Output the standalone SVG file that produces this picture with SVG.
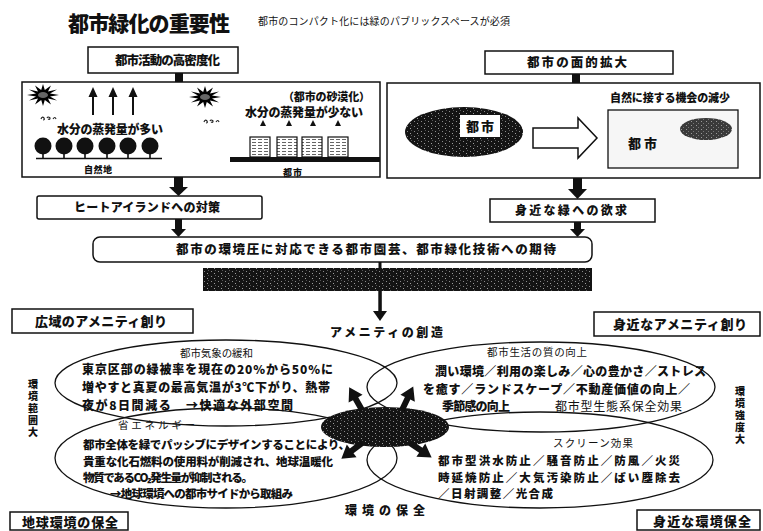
<svg xmlns="http://www.w3.org/2000/svg" width="763" height="531" viewBox="0 0 763 531">
<defs>
<style>
text { font-family: "Noto Sans CJK JP", "Noto Sans", sans-serif; fill: #111; }
.b { font-weight: 900; }
.r { font-weight: 400; }
.box { fill: #fff; stroke: #111; stroke-width: 1.5; }
.ell { fill: none; stroke: #111; stroke-width: 1.3; }
.ink { fill: #111; }
.thin { stroke: #111; stroke-width: 1.5; fill: none; }
.vert { writing-mode: vertical-rl; font-weight: 900; font-size: 10px; letter-spacing: 2px; }
</style>
<pattern id="grain" width="7" height="5" patternUnits="userSpaceOnUse">
  <rect width="7" height="5" fill="#141414"/>
  <rect x="1" y="1" width="1" height="1" fill="#8a8a8a"/>
  <rect x="4" y="3" width="1" height="1" fill="#a0a0a0"/>
  <rect x="5" y="0" width="1" height="1" fill="#555"/>
</pattern>
<pattern id="grain2" width="5" height="4" patternUnits="userSpaceOnUse">
  <rect width="5" height="4" fill="#3a3a3a"/>
  <rect x="1" y="1" width="1" height="1" fill="#9a9a9a"/>
  <rect x="3" y="3" width="1" height="1" fill="#777"/>
</pattern>
<pattern id="wall" width="6" height="3" patternUnits="userSpaceOnUse">
  <rect width="6" height="3" fill="#fff"/>
  <rect x="0" y="1" width="4" height="1" fill="#666"/>
</pattern>
<polygon id="burst" points="16,0 7,1.4 14,5.5 5,3.5 8,9.5 1.8,5 0,11 -1.8,5 -8,9.5 -5,3.5 -14,5.5 -7,1.4 -16,0 -7,-1.4 -14,-5.5 -5,-3.5 -8,-9.5 -1.8,-5 0,-11 1.8,-5 8,-9.5 5,-3.5 14,-5.5 7,-1.4"/>
<g id="tree">
  <circle r="8.5" fill="#111"/>
  <rect x="-0.8" y="6" width="1.6" height="6" fill="#111"/>
</g>
<path id="upArrow" d="M-1,0 V-18 H-4.5 L0,-28 L4.5,-18 H1 V0 Z" fill="#111"/>
<path id="fat" d="M0,-3 H13 V-8 L26,0 L13,8 V3 H0 Z" fill="#111"/>
<path id="drops" d="M0,2 q1,-3 3,-1 q1,2 -1,2 M6,1 q1,-2 3,0 q0,2 -2,1 M12,2 q2,-3 3,0" stroke="#222" stroke-width="1.2" fill="none"/>
</defs>

<rect width="763" height="531" fill="#fff"/>

<!-- heading -->
<g id="title">
  <text x="68" y="31" font-size="21" class="b" textLength="162">都市緑化の重要性</text>
  <text x="258" y="25" font-size="10" class="r" textLength="252">都市のコンパクト化には緑のパブリックスペースが必須</text>
</g>

<!-- connectors -->
<g id="connectors" class="ink">
  <rect x="175" y="73" width="8" height="9"/>
  <rect x="572" y="74" width="8" height="9"/>
  <rect x="174" y="177" width="9" height="10"/>
  <polygon points="169,187 188,187 178.5,196"/>
  <rect x="573" y="178" width="9" height="11"/>
  <polygon points="568,189 587,189 577.5,199"/>
  <rect x="175" y="219" width="7" height="10"/>
  <polygon points="171,229 186,229 178.5,237"/>
  <rect x="574" y="222" width="7" height="7"/>
  <polygon points="570,229 585,229 577.5,237"/>
  <rect x="378.5" y="262" width="3" height="6"/>
  <rect x="378.3" y="291" width="3.5" height="21"/>
  <polygon points="373,311 387,311 380,321"/>
</g>

<!-- density of urban activity -->
<g id="node-density">
  <rect class="box" x="88" y="47" width="150" height="26"/>
  <text x="115" y="65" font-size="12.5" class="b" textLength="105">都市活動の高密度化</text>
</g>

<g id="node-left-panel">
  <rect class="box" x="22" y="82" width="358" height="95"/>
  <use href="#burst" x="43" y="95"/>
  <ellipse cx="43" cy="95" rx="5" ry="3" fill="#666"/>
  <use href="#upArrow" x="93" y="115"/>
  <use href="#upArrow" x="113" y="115"/>
  <use href="#upArrow" x="133" y="115"/>
  <use href="#drops" x="41" y="117"/>
  <text x="57" y="134" font-size="12" class="b" textLength="106">水分の蒸発量が多い</text>
  <use href="#tree" x="43" y="146"/>
  <use href="#tree" x="64" y="146"/>
  <use href="#tree" x="85" y="146"/>
  <use href="#tree" x="107" y="146"/>
  <use href="#tree" x="128" y="146"/>
  <use href="#tree" x="150" y="146"/>
  <line x1="36" y1="158.5" x2="162" y2="158.5" class="thin"/>
  <text x="84" y="173" font-size="9" class="b" textLength="28">自然地</text>

  <use href="#burst" x="205" y="97"/>
  <ellipse cx="205" cy="97" rx="5" ry="3" fill="#666"/>
  <use href="#drops" x="204" y="120"/>
  <text x="283" y="101" font-size="11" class="b" textLength="87">（都市の砂漠化）</text>
  <text x="245" y="117" font-size="12" class="b" textLength="118">水分の蒸発量が少ない</text>
  <polygon class="ink" points="260,126 263,120 266,126"/>
  <polygon class="ink" points="286,126 289,120 292,126"/>
  <polygon class="ink" points="310,126 313,120 316,126"/>
  <polygon class="ink" points="335,126 338,120 341,126"/>
  <rect x="250" y="137" width="20" height="20" fill="url(#wall)" stroke="#111" stroke-width="1.2"/>
  <rect x="277" y="137" width="20" height="20" fill="url(#wall)" stroke="#111" stroke-width="1.2"/>
  <rect x="302" y="137" width="20" height="20" fill="url(#wall)" stroke="#111" stroke-width="1.2"/>
  <rect x="328" y="137" width="20" height="20" fill="url(#wall)" stroke="#111" stroke-width="1.2"/>
  <rect class="ink" x="230" y="157" width="150" height="5"/>
  <text x="283" y="176" font-size="9" class="b" textLength="19">都市</text>
</g>

<!-- spatial expansion -->
<g id="node-expansion">
  <rect class="box" x="485" y="51" width="188" height="23"/>
  <text x="527" y="67" font-size="12.5" class="b" textLength="100">都市の面的拡大</text>
</g>

<g id="node-right-panel">
  <rect class="box" x="387" y="83" width="373" height="95"/>
  <ellipse cx="464" cy="132" rx="59" ry="25" fill="url(#grain)"/>
  <rect x="460" y="115" width="40" height="22" fill="#fff"/>
  <text x="466" y="131" font-size="13" class="b" textLength="28">都市</text>
  <polygon points="533,128 578,128 578,118 597,138 578,158 578,148 533,148" fill="#fff" stroke="#111" stroke-width="1.5"/>
  <text x="610" y="102" font-size="11" class="b" textLength="120">自然に接する機会の減少</text>
  <rect x="608" y="110" width="130" height="58" fill="#f6f6f6" stroke="#111" stroke-width="1.3"/>
  <ellipse cx="706" cy="129" rx="26" ry="11" fill="url(#grain2)"/>
  <text x="628" y="148" font-size="13" class="b" textLength="29">都市</text>
</g>

<g id="node-heat-island">
  <rect class="box" x="37" y="196" width="225" height="23" rx="2"/>
  <text x="74" y="212" font-size="12" class="b" textLength="146">ヒートアイランドへの対策</text>
</g>

<g id="node-greenery-desire">
  <rect class="box" x="490" y="199" width="165" height="23"/>
  <text x="515" y="215" font-size="12" class="b" textLength="112">身近な緑への欲求</text>
</g>

<g id="node-expectation">
  <rect class="box" x="93" y="237" width="499" height="25" rx="7"/>
  <text x="176" y="254" font-size="12.5" class="b" textLength="380">都市の環境圧に対応できる都市園芸、都市緑化技術への期待</text>
</g>

<g id="node-dark-bar">
  <rect x="203" y="268" width="389" height="23" fill="url(#grain)"/>
</g>

<g id="node-wide-amenity">
  <rect class="box" x="12" y="309" width="181" height="24"/>
  <text x="35" y="326" font-size="13" class="b" textLength="132">広域のアメニティ創り</text>
</g>

<g id="node-amenity-creation">
  <text x="330" y="337" font-size="12" class="b" textLength="113">アメニティの創造</text>
</g>

<g id="node-near-amenity">
  <rect class="box" x="594" y="312" width="166" height="24"/>
  <text x="613" y="329" font-size="13" class="b" textLength="134">身近なアメニティ創り</text>
</g>

<!-- four overlapping effect fields -->
<g id="effect-outlines">
  <ellipse class="ell" cx="226" cy="383" rx="171" ry="43"/>
  <ellipse class="ell" cx="541" cy="387" rx="174" ry="45"/>
  <ellipse class="ell" cx="226" cy="458" rx="171" ry="50"/>
  <ellipse class="ell" cx="540" cy="460" rx="173" ry="48"/>
</g>

<g id="node-climate">
  <text x="180" y="357" font-size="10.5" class="r" textLength="73">都市気象の緩和</text>
  <text x="82" y="374" font-size="12" class="b" textLength="251">東京区部の緑被率を現在の20%から50%に</text>
  <text x="82" y="392" font-size="12" class="b" textLength="248">増やすと真夏の最高気温が3℃下がり、熱帯</text>
  <text x="82" y="410" font-size="12" class="b" textLength="211">夜が8日間減る　→快適な外部空間</text>
</g>

<g id="node-quality">
  <text x="487" y="356" font-size="10.5" class="r" textLength="100">都市生活の質の向上</text>
  <text x="435" y="376" font-size="12" class="b" textLength="271">潤い環境／利用の楽しみ／心の豊かさ／ストレス</text>
  <text x="423" y="394" font-size="12" class="b" textLength="267">を癒す／ランドスケープ／不動産価値の向上／</text>
  <text x="442" y="411" font-size="12" class="b" textLength="68">季節感の向上</text>
  <text x="555" y="411" font-size="12" class="r" textLength="127">都市型生態系保全効果</text>
</g>

<g id="node-energy">
  <text x="118" y="429" font-size="10.5" class="r" textLength="77">省エネルギー</text>
  <text x="83" y="449" font-size="11.5" class="b" textLength="267">都市全体を緑でパッシブにデザインすることにより、</text>
  <text x="83" y="465.5" font-size="11.5" class="b" textLength="250">貴重な化石燃料の使用料が削減され、地球温暖化</text>
  <text x="83" y="482" font-size="11.5" class="b" textLength="170">物質であるCO₂発生量が抑制される。</text>
  <text x="110" y="498" font-size="11.5" class="b" textLength="183">→地球環境への都市サイドから取組み</text>
</g>

<g id="node-screen">
  <text x="553" y="447" font-size="10.5" class="r" textLength="80">スクリーン効果</text>
  <text x="438" y="465" font-size="11.5" class="b" textLength="242">都市型洪水防止／騒音防止／防風／火災</text>
  <text x="438" y="481.5" font-size="11.5" class="b" textLength="242">時延焼防止／大気汚染防止／ばい塵除去</text>
  <text x="438" y="498" font-size="11.5" class="b" textLength="115">／日射調整／光合成</text>
</g>

<g id="node-core">
  <ellipse cx="385" cy="427" rx="64" ry="20" fill="url(#grain)"/>
  <use href="#fat" transform="translate(362,410) rotate(-119.5)"/>
  <use href="#fat" transform="translate(402,410) rotate(-64.4)"/>
  <use href="#fat" transform="translate(362,443) rotate(142.6)"/>
  <use href="#fat" transform="translate(410,443) rotate(33.7)"/>
</g>

<g id="node-range">
  <text class="vert" x="33" y="379">環境範囲大</text>
</g>

<g id="node-intensity">
  <text class="vert" x="740" y="386">環境強度大</text>
</g>

<g id="node-global">
  <rect class="box" x="10" y="512" width="118" height="18"/>
  <text x="22" y="527" font-size="13" class="b" textLength="96">地球環境の保全</text>
</g>

<g id="node-conservation">
  <text x="345" y="515" font-size="12" class="b" textLength="80">環境の保全</text>
</g>

<g id="node-local">
  <rect class="box" x="637" y="510" width="123" height="20"/>
  <text x="653" y="526" font-size="13" class="b" textLength="98">身近な環境保全</text>
</g>
</svg>
